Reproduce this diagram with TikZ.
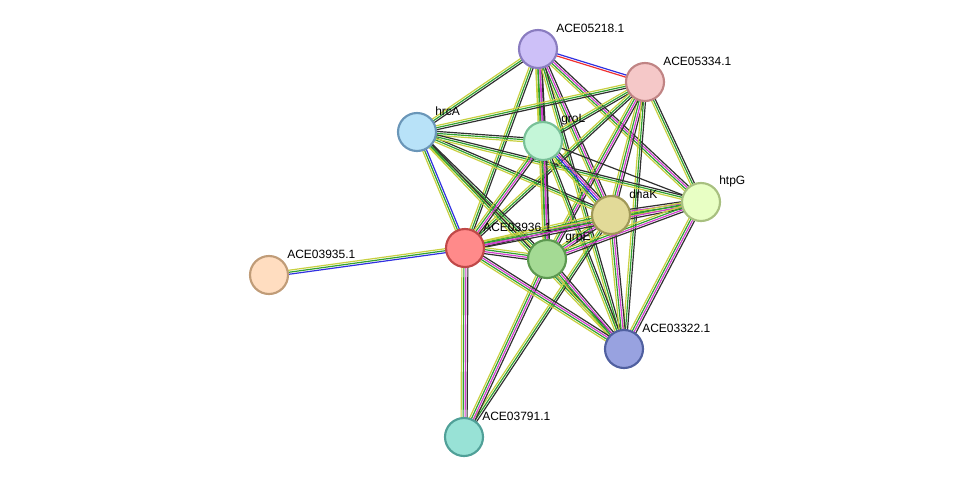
\documentclass[tikz,border=0pt]{standalone}
\usepackage{fontspec}
\setmainfont{Liberation Sans}
\usetikzlibrary{calc}
\pgfdeclarelayer{bg}\pgfsetlayers{bg,main}
\definecolor{tm}{HTML}{C8D040}
\definecolor{gn}{HTML}{30A030}
\definecolor{mg}{HTML}{D040D0}
\definecolor{bk}{HTML}{303030}
\definecolor{bl}{HTML}{3030E0}
\definecolor{rd}{HTML}{F03030}
\newcommand\lnk[3]{\foreach \c/\o in #3{\draw[\c, line width=0.9pt] ($(#1)!\o!90:(#2)$) -- ($(#2)!\o!-90:(#1)$);}}
\newcommand\SA{tm/-1.5pt,gn/0pt,bk/1.5pt}
\newcommand\SB{tm/-2.25pt,gn/-0.75pt,mg/0.75pt,bk/2.25pt}
\newcommand\SC{tm/-1.5pt,gn/0pt,bl/1.5pt}
\newcommand\SD{tm/-3pt,gn/-1.5pt,bl/0pt,mg/1.5pt,bk/3pt}
\newcommand\SR{rd/-0.8pt,bl/0.8pt}
\newcommand\SK{bk/0pt}
\begin{document}
\begin{tikzpicture}[x=0.75pt,y=-0.75pt,
  prot/.style={circle,minimum size=28.5pt,inner sep=0pt,line width=1.6pt},
  lbl/.style={anchor=west,font=\fontsize{9}{10}\selectfont,inner sep=0pt}]
\useasboundingbox (0,0) rectangle (975,483);
\def\P#1#2#3#4#5#6{\definecolor{f#1}{HTML}{#4}\definecolor{d#1}{HTML}{#5}\node[prot,fill=f#1,draw=d#1] (#1) at (#2,#3) {}; \node[lbl] (#1l) at (#2+18,#3-21) {#6};}
\P{a}{538}{49}{CDC0F8}{8A7CC0}{ACE05218.1}
\P{b}{645}{82}{F5C8C8}{C08484}{ACE05334.1}
\P{h}{417}{132}{B8E2F8}{6A96B8}{hrcA}
\P{g}{543}{141}{C4F6D8}{78C098}{groL}
\P{t}{701}{202}{E8FFC4}{A8C080}{htpG}
\P{d}{611}{215}{E2DA98}{A09858}{dnaK}
\P{c}{465}{248}{FF8A8A}{C04848}{ACE03936.1}
\P{e}{547}{259}{A4DA94}{5C9850}{grpE}
\P{f}{269}{275}{FFDDC0}{C09C78}{ACE03935.1}
\P{k}{624}{349}{98A2E0}{5060A0}{ACE03322.1}
\P{m}{464}{437}{98E2D6}{50A098}{ACE03791.1}
\begin{pgfonlayer}{bg}
\lnk{a}{b}{\SR}
\lnk{a}{h}{\SA}\lnk{a}{g}{\SB}\lnk{a}{d}{\SB}\lnk{a}{t}{\SB}\lnk{a}{e}{\SB}
\lnk{a}{c}{\SA}\lnk{a}{k}{\SA}
\lnk{b}{h}{\SA}\lnk{b}{g}{\SA}\lnk{b}{d}{\SB}\lnk{b}{t}{\SA}\lnk{b}{e}{\SB}
\lnk{b}{c}{\SA}\lnk{b}{k}{\SA}
\lnk{h}{g}{\SA}\lnk{h}{d}{\SA}\lnk{h}{e}{\SA}\lnk{h}{c}{\SC}
\lnk{h}{t}{\SA}\lnk{h}{k}{\SA}
\lnk{g}{d}{\SD}\lnk{g}{t}{\SK}
\lnk{g}{e}{\SB}\lnk{g}{c}{\SB}\lnk{g}{k}{\SA}
\lnk{d}{t}{\SB}\lnk{d}{e}{\SB}\lnk{d}{c}{\SB}\lnk{d}{k}{\SB}\lnk{d}{m}{\SA}
\lnk{t}{c}{\SB}\lnk{t}{e}{\SB}\lnk{t}{k}{\SB}
\lnk{e}{c}{\SB}\lnk{e}{k}{\SB}\lnk{e}{m}{\SB}
\lnk{c}{f}{\SC}
\lnk{c}{m}{\SB}\lnk{c}{k}{\SB}
\end{pgfonlayer}
\end{tikzpicture}
\end{document}
